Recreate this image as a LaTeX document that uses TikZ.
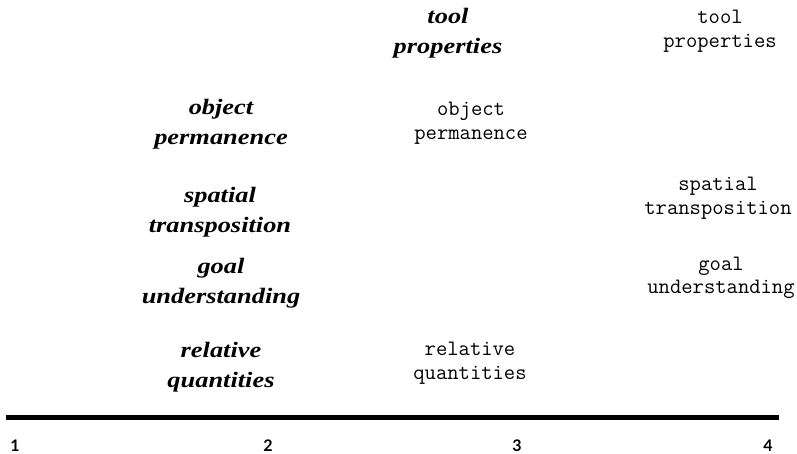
\documentclass[tikz,border=0pt]{standalone}
\usepackage{fontspec}
\newfontfamily\itf[FakeStretch=1.2]{Liberation Serif}
\newfontfamily\numf{Lato}
\begin{document}
\begin{tikzpicture}[x=1pt,y=-1pt,
  itlabel/.style={font=\itf\bfseries\itshape\fontsize{22}{30}\selectfont, align=center, inner sep=0pt},
  monolabel/.style={font=\ttfamily\fontsize{22}{23.5}\selectfont, align=center, inner sep=0pt},
  numlabel/.style={font=\numf\bfseries\fontsize{16}{18}\selectfont, inner sep=0pt},
  axisline/.style={line width=5pt}]
\useasboundingbox (0,0) rectangle (797,454);
% italic column
\node[itlabel] (itTool) at (448,33) {tool\\properties};
\node[itlabel] (itObj) at (221,124) {object\\permanence};
\node[itlabel] (itSpat) at (220,212) {spatial\\transposition};
\node[itlabel] (itGoal) at (221,283) {goal\\understanding};
\node[itlabel] (itRel) at (221,367) {relative\\quantities};
% mono labels
\node[monolabel] (mTool) at (720,31) {tool\\properties};
\node[monolabel] (mObj) at (471,123) {object\\permanence};
\node[monolabel] (mSpat) at (718,198) {spatial\\transposition};
\node[monolabel] (mGoal) at (721,278) {goal\\understanding};
\node[monolabel] (mRel) at (470,363) {relative\\quantities};
% axis
\coordinate (axL) at (6,417);
\coordinate (axR) at (779,417);
\draw[axisline] (axL) -- (axR);
\node[numlabel] (n1) at (15,446) {1};
\node[numlabel] (n2) at (268,446) {2};
\node[numlabel] (n3) at (517,446) {3};
\node[numlabel] (n4) at (768,446) {4};
\end{tikzpicture}
\end{document}
